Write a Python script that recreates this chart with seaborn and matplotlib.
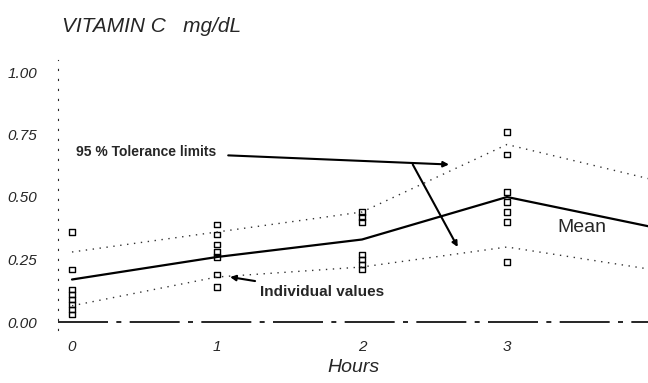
import pandas as pd
import numpy as np
import matplotlib
matplotlib.use("Agg")
import matplotlib.pyplot as plt
import seaborn as sns

# curves
hours = [0, 1, 2, 3, 4]
mean_c = [0.17, 0.26, 0.33, 0.50, 0.38]
upper_c = [0.28, 0.36, 0.44, 0.71, 0.57]
lower_c = [0.065, 0.18, 0.22, 0.30, 0.21]

# individual values
ind_h0 = [0.36, 0.21, 0.13, 0.11, 0.09, 0.07, 0.05, 0.03]
ind_h1 = [0.39, 0.35, 0.31, 0.28, 0.26, 0.19, 0.14]
ind_h2 = [0.44, 0.42, 0.40, 0.27, 0.25, 0.23, 0.21]
ind_h3 = [0.76, 0.67, 0.52, 0.48, 0.44, 0.40, 0.24]

x_ticks = [0, 1, 2, 3]
y_ticks = [0.0, 0.25, 0.50, 0.75, 1.00]
y_labels = ["0.00", "0.25", "0.50", "0.75", "1.00"]

sns.set_style("white")
plt.rcParams['font.family'] = ['Liberation Sans', 'DejaVu Sans']

curves = pd.DataFrame({"Hours": hours, "mean": mean_c, "upper": upper_c, "lower": lower_c})
points = pd.DataFrame({
    "Hours": [0] * len(ind_h0) + [1] * len(ind_h1) + [2] * len(ind_h2) + [3] * len(ind_h3),
    "value": ind_h0 + ind_h1 + ind_h2 + ind_h3,
})

fig = plt.figure(figsize=(6.48, 3.83), dpi=100)
ax = fig.add_axes([58 / 648, 1 - 330 / 383, 590 / 648, 270 / 383])

sns.lineplot(data=curves, x="Hours", y="mean", color="black", linewidth=1.6, ax=ax)
sns.lineplot(data=curves, x="Hours", y="upper", color="#333333", linewidth=1.0,
             linestyle=(0, (1, 4)), ax=ax)
sns.lineplot(data=curves, x="Hours", y="lower", color="#333333", linewidth=1.0,
             linestyle=(0, (1, 4)), ax=ax)
sns.scatterplot(data=points, x="Hours", y="value", marker="s", s=18,
                facecolor="none", edgecolor="black", linewidth=1.0, ax=ax)

# baseline
ax.axhline(0, color="black", linewidth=1.2, linestyle=(0, (30, 5, 3, 5)), zorder=1)

ax.set_xlim((58 - 72) / 145, (648 - 72) / 145)
ax.set_ylim(-8 / 250, 262 / 250)
ax.set_xticks(x_ticks)
ax.set_xticklabels([str(t) for t in x_ticks], fontstyle="italic", fontsize=11)
ax.set_yticks(y_ticks)
ax.set_yticklabels(y_labels, fontstyle="italic", fontsize=11)
ax.tick_params(axis="y", length=3, pad=12, width=0.8)
ax.tick_params(axis="x", length=0, pad=7)
for s in ["top", "right", "bottom"]:
    ax.spines[s].set_visible(False)
ax.spines["left"].set_linestyle((0, (1, 8)))
ax.spines["left"].set_linewidth(0.8)
ax.set_xlabel("Hours", fontstyle="italic", fontsize=14, labelpad=4)
ax.set_ylabel("")

fig.text(62 / 648, 1 - 27 / 383, "VITAMIN C   mg/dL", fontstyle="italic",
         fontsize=15, va="center", ha="left")

# annotations
ax.annotate("95 % Tolerance limits", xy=(2.6, 0.63), xytext=(0.03, 0.68),
            fontsize=10, fontweight="bold", va="center", ha="left",
            arrowprops=dict(arrowstyle="-|>", color="black", lw=1.5,
                            shrinkA=6, shrinkB=0, mutation_scale=8))
ax.annotate("", xy=(2.66, 0.30), xytext=(2.35, 0.63),
            arrowprops=dict(arrowstyle="-|>", color="black", lw=1.5,
                            shrinkA=0, shrinkB=0, mutation_scale=8))
ax.annotate("Individual values", xy=(1.09, 0.18), xytext=(1.3, 0.12),
            fontsize=11, fontweight="bold", va="center", ha="left",
            arrowprops=dict(arrowstyle="-|>", color="black", lw=1.5,
                            shrinkA=3, shrinkB=0, mutation_scale=8))
ax.text(3.35, 0.38, "Mean", fontsize=14, va="center", ha="left")

fig.savefig("out.png", dpi=100)
